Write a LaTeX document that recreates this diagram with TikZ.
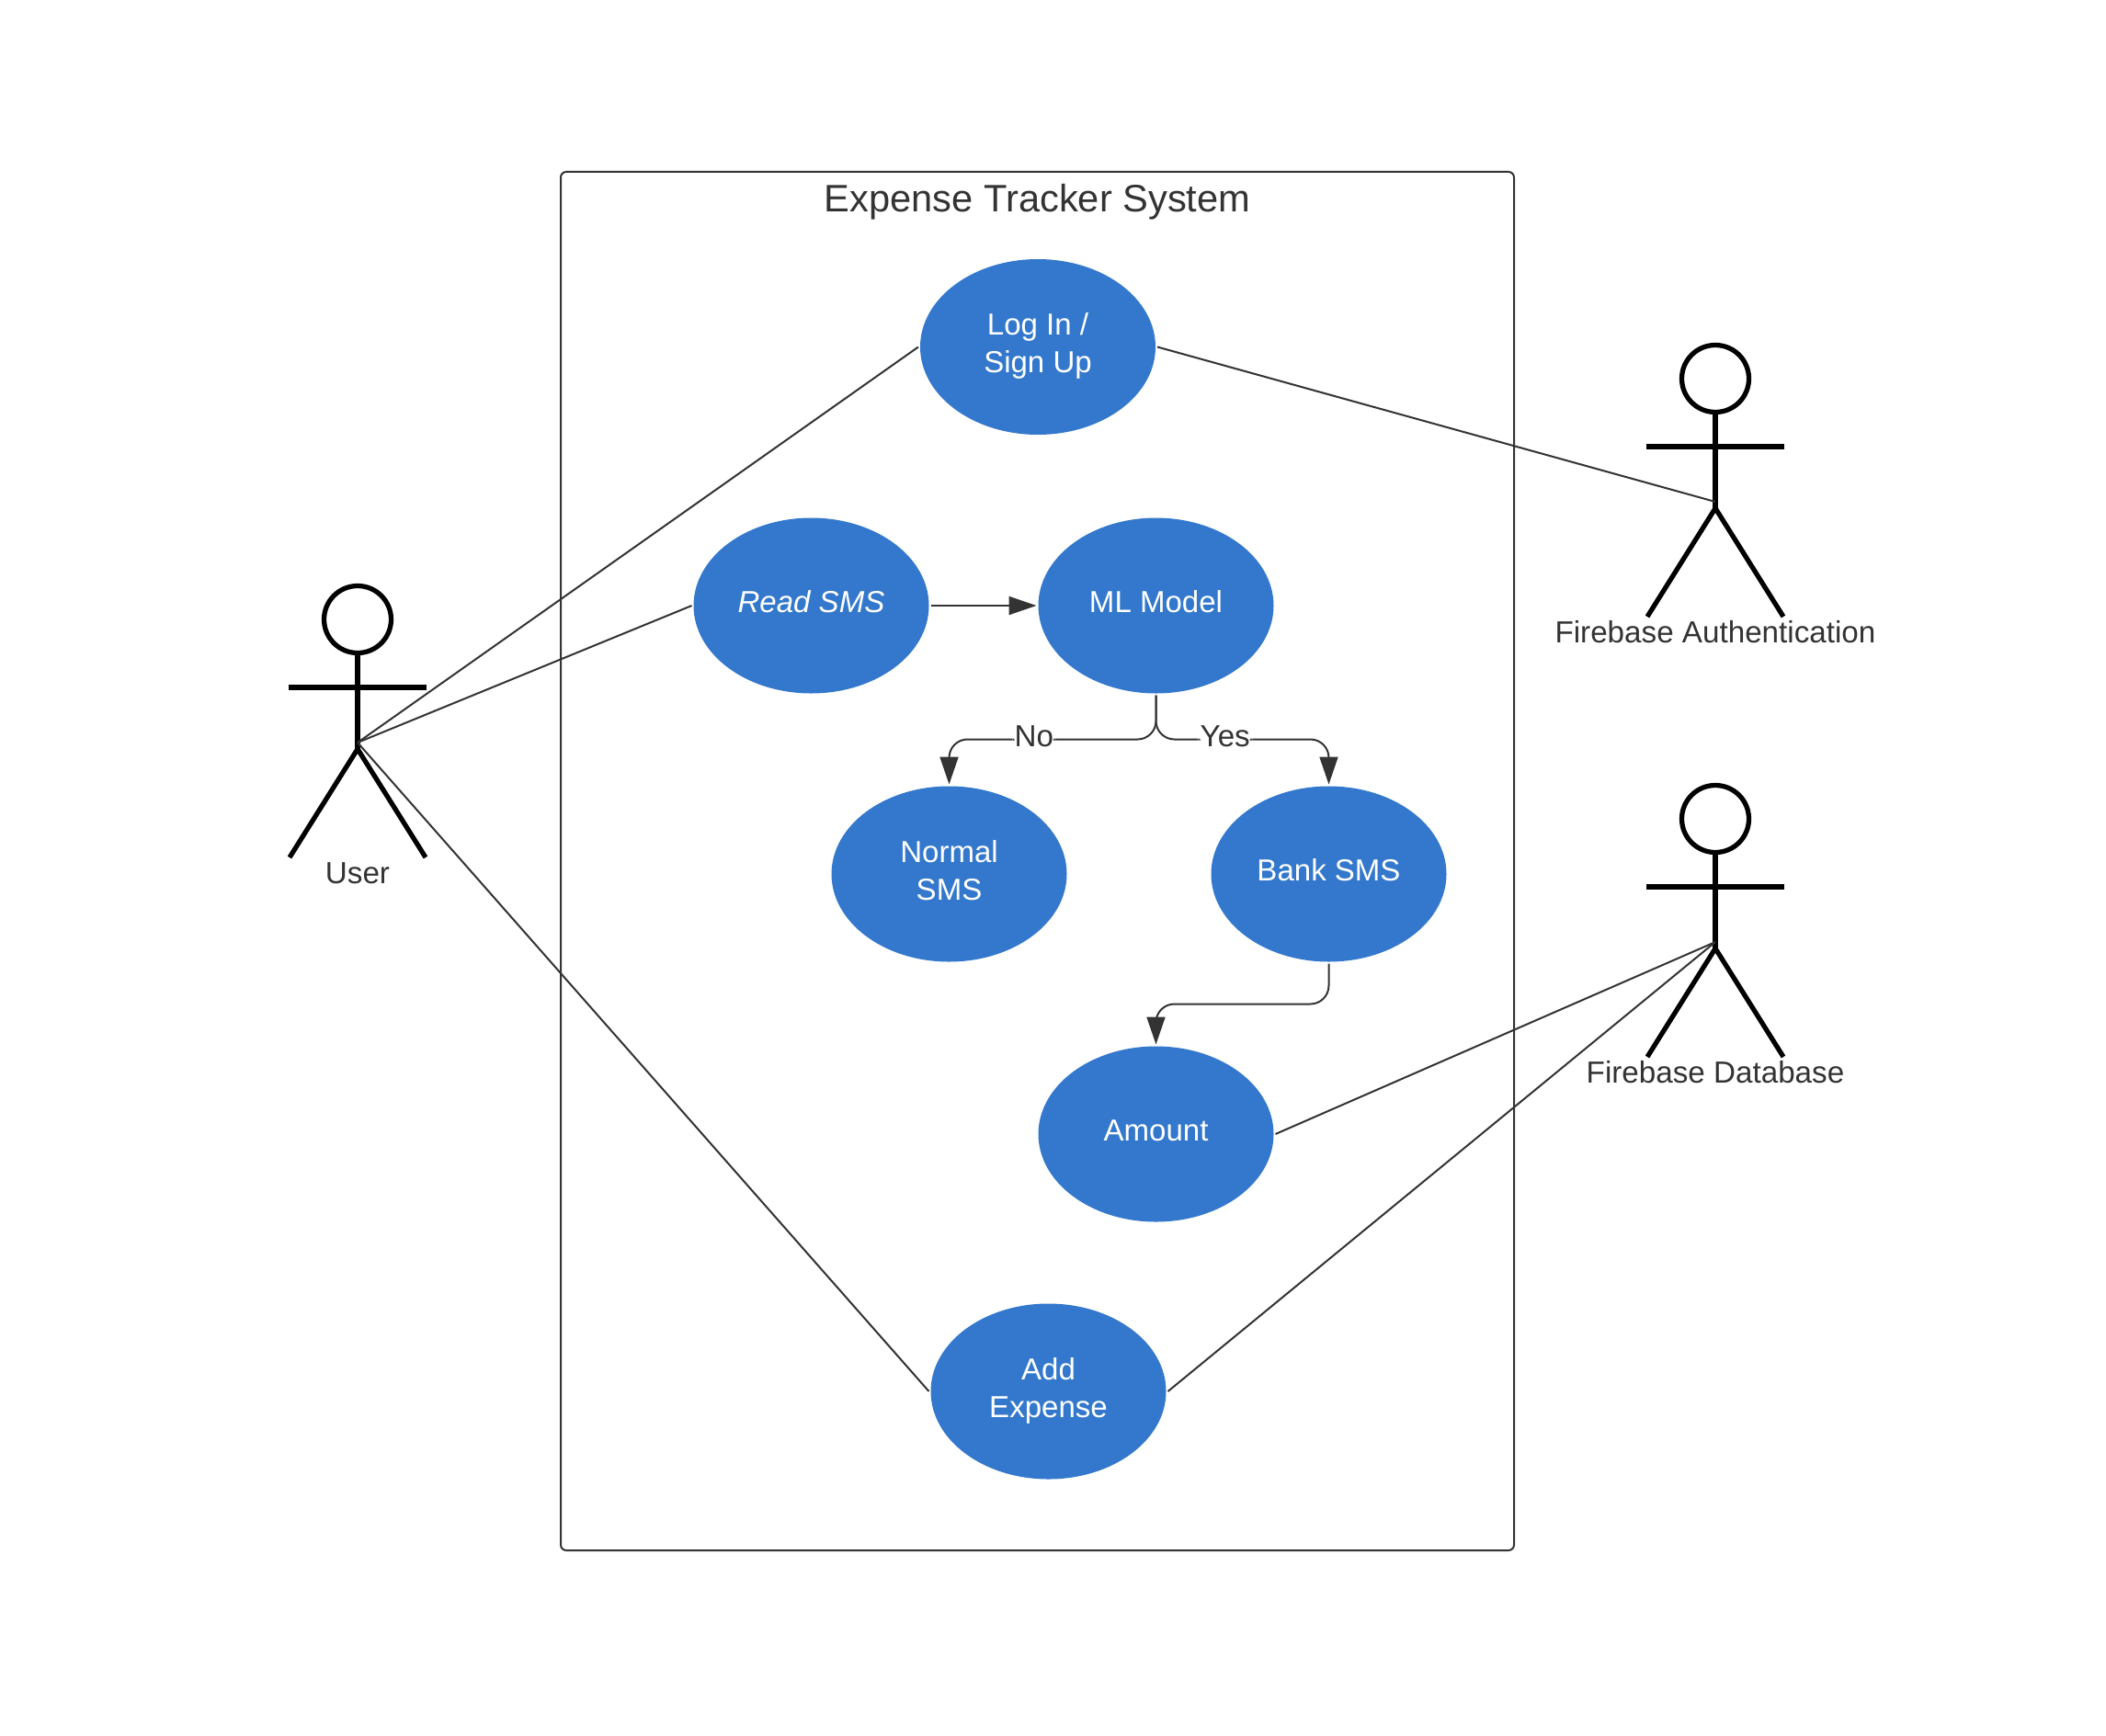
\documentclass[tikz,border=0pt]{standalone}
\usepackage{fontspec}
\setmainfont{Liberation Sans}
\usetikzlibrary{positioning,shapes.geometric,arrows.meta}
\definecolor{ink}{HTML}{333333}
\definecolor{caseblue}{HTML}{3378CC}
\tikzset{
usecase/.style={ellipse, fill=caseblue, text=white, minimum width=5.12cm, minimum height=3.82cm,
  inner sep=0pt, outer sep=.04cm, align=center, font=\fontsize{18.8}{23.4}\selectfont,
  execute at end node={\rule[-4.8pt]{0pt}{0pt}}},
link/.style={draw=ink, line width=.04cm},
flow/.style={link, rounded corners=.4cm, -{Triangle[length=.6cm,width=.4cm,fill=ink]}},
actorlabel/.style={text=ink, font=\fontsize{18.9}{23.4}\selectfont},
branchlabel/.style={text=ink, fill=white, inner sep=.05cm, yshift=.07cm, font=\fontsize{18.9}{23.4}\selectfont},
actor/.pic={
  \draw[line width=.105cm] (0,0) circle (.73cm);
  \draw[line width=.105cm] (0,-.73) -- (0,-2.82);
  \draw[line width=.105cm] (-1.5,-1.48) -- (1.5,-1.48);
  \draw[line width=.105cm] (-1.48,-5.18) -- (0,-2.82) -- (1.48,-5.18);
  \coordinate (-joint) at (0,-2.68);
  \node[actorlabel] (-label) at (0,-5.52) {#1};
}}
\begin{document}
\begin{tikzpicture}[on grid]
\useasboundingbox (0,0) rectangle (45.82,-37.76);
\node[draw=ink, line width=.04cm, rounded corners=.12cm, minimum width=20.74cm, minimum height=30cm] (system) at (22.57,-18.74) {};
\node[below=.16cm of system.north, text=ink, font=\fontsize{23.7}{28}\selectfont] (title) {Expense Tracker System};
\node[usecase] (login) at (22.58,-7.55) {Log In /\\Sign Up};
\node[usecase, below left=5.63cm and 4.93cm of login] (read) {\itshape Read SMS};
\node[usecase, right=7.5cm of read] (ml) {ML Model};
\node[usecase, below left=5.84cm and 4.5cm of ml] (normal) {Normal\\SMS};
\node[usecase, below right=5.84cm and 3.76cm of ml] (bank) {Bank SMS};
\node[usecase, below left=5.66cm and 3.76cm of bank] (amount) {Amount};
\node[usecase, below left=5.6cm and 2.34cm of amount] (add) {Add\\Expense};
\pic (user) at (7.78,-13.48) {actor=User};
\pic (auth) at (37.32,-8.24) {actor=Firebase Authentication};
\pic (db) at (37.32,-17.82) {actor=Firebase Database};
\draw[link] (user-joint) -- (login.west);
\draw[link] (user-joint) -- (read.west);
\draw[link] (user-joint) -- (add.west);
\draw[link] (login.east) -- (auth-joint);
\draw[link] (amount.east) -- (db-joint);
\draw[link] (add.east) -- (db-joint);
\draw[flow] (read.east) -- (ml.west);
\draw[flow] (ml.south) -- ++(0,-.96) -| node[branchlabel, pos=.295] (no) {No} (normal.north);
\draw[flow] (ml.south) -- ++(0,-.96) -| node[branchlabel, pos=.2] (yes) {Yes} (bank.north);
\draw[flow] (bank.south) -- ++(0,-.88) -| (amount.north);
\end{tikzpicture}
\end{document}
